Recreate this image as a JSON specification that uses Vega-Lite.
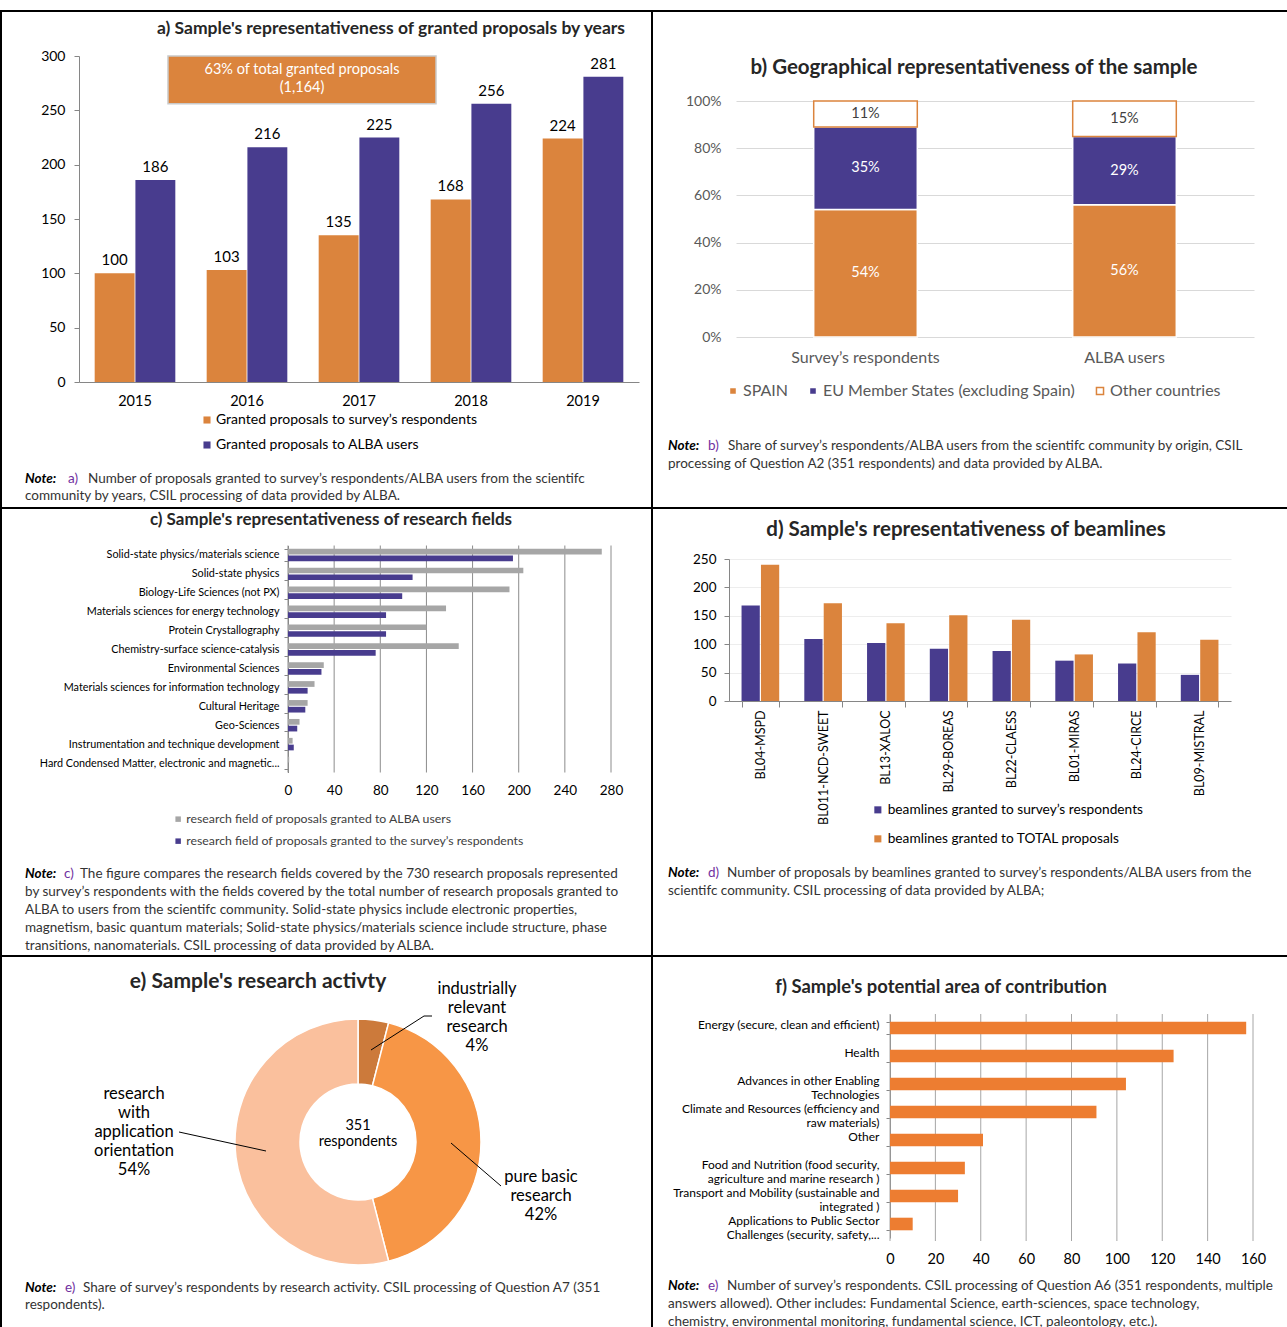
{
"$schema": "https://vega.github.io/schema/vega-lite/v6.json",
"padding": {"left": 0, "top": 10, "right": 0, "bottom": 0},
"background": "white",
"datasets": {
"a": [
{"year":"2015","series":"Granted proposals to survey’s respondents","proposals":100},
{"year":"2015","series":"Granted proposals to ALBA users","proposals":186},
{"year":"2016","series":"Granted proposals to survey’s respondents","proposals":103},
{"year":"2016","series":"Granted proposals to ALBA users","proposals":216},
{"year":"2017","series":"Granted proposals to survey’s respondents","proposals":135},
{"year":"2017","series":"Granted proposals to ALBA users","proposals":225},
{"year":"2018","series":"Granted proposals to survey’s respondents","proposals":168},
{"year":"2018","series":"Granted proposals to ALBA users","proposals":256},
{"year":"2019","series":"Granted proposals to survey’s respondents","proposals":224},
{"year":"2019","series":"Granted proposals to ALBA users","proposals":281}
],
"b": [
{"group":"Survey’s respondents","origin":"SPAIN","share":0.54,"k":1},
{"group":"Survey’s respondents","origin":"EU Member States (excluding Spain)","share":0.35,"k":2},
{"group":"Survey’s respondents","origin":"Other countries","share":0.11,"k":3},
{"group":"ALBA users","origin":"SPAIN","share":0.56,"k":1},
{"group":"ALBA users","origin":"EU Member States (excluding Spain)","share":0.29,"k":2},
{"group":"ALBA users","origin":"Other countries","share":0.15,"k":3}
],
"c": [
{"field":"Solid-state physics/materials science","series":"research field of proposals granted to ALBA users","n":272},
{"field":"Solid-state physics/materials science","series":"research field of proposals granted to the survey’s respondents","n":195},
{"field":"Solid-state physics","series":"research field of proposals granted to ALBA users","n":204},
{"field":"Solid-state physics","series":"research field of proposals granted to the survey’s respondents","n":108},
{"field":"Biology-Life Sciences (not PX)","series":"research field of proposals granted to ALBA users","n":192},
{"field":"Biology-Life Sciences (not PX)","series":"research field of proposals granted to the survey’s respondents","n":99},
{"field":"Materials sciences for energy technology","series":"research field of proposals granted to ALBA users","n":137},
{"field":"Materials sciences for energy technology","series":"research field of proposals granted to the survey’s respondents","n":85},
{"field":"Protein Crystallography","series":"research field of proposals granted to ALBA users","n":120},
{"field":"Protein Crystallography","series":"research field of proposals granted to the survey’s respondents","n":85},
{"field":"Chemistry-surface science-catalysis","series":"research field of proposals granted to ALBA users","n":148},
{"field":"Chemistry-surface science-catalysis","series":"research field of proposals granted to the survey’s respondents","n":76},
{"field":"Environmental Sciences","series":"research field of proposals granted to ALBA users","n":31},
{"field":"Environmental Sciences","series":"research field of proposals granted to the survey’s respondents","n":29},
{"field":"Materials sciences for information technology","series":"research field of proposals granted to ALBA users","n":23},
{"field":"Materials sciences for information technology","series":"research field of proposals granted to the survey’s respondents","n":17},
{"field":"Cultural Heritage","series":"research field of proposals granted to ALBA users","n":17},
{"field":"Cultural Heritage","series":"research field of proposals granted to the survey’s respondents","n":15},
{"field":"Geo-Sciences","series":"research field of proposals granted to ALBA users","n":10},
{"field":"Geo-Sciences","series":"research field of proposals granted to the survey’s respondents","n":8},
{"field":"Instrumentation and technique development","series":"research field of proposals granted to ALBA users","n":4},
{"field":"Instrumentation and technique development","series":"research field of proposals granted to the survey’s respondents","n":5},
{"field":"Hard Condensed Matter, electronic and magnetic...","series":"research field of proposals granted to ALBA users","n":1},
{"field":"Hard Condensed Matter, electronic and magnetic...","series":"research field of proposals granted to the survey’s respondents","n":0}
],
"d": [
{"beamline":"BL04-MSPD","series":"beamlines granted to survey’s respondents","n":168},
{"beamline":"BL04-MSPD","series":"beamlines granted to TOTAL proposals","n":240},
{"beamline":"BL011-NCD-SWEET","series":"beamlines granted to survey’s respondents","n":109},
{"beamline":"BL011-NCD-SWEET","series":"beamlines granted to TOTAL proposals","n":172},
{"beamline":"BL13-XALOC","series":"beamlines granted to survey’s respondents","n":102},
{"beamline":"BL13-XALOC","series":"beamlines granted to TOTAL proposals","n":137},
{"beamline":"BL29-BOREAS","series":"beamlines granted to survey’s respondents","n":92},
{"beamline":"BL29-BOREAS","series":"beamlines granted to TOTAL proposals","n":151},
{"beamline":"BL22-CLAESS","series":"beamlines granted to survey’s respondents","n":88},
{"beamline":"BL22-CLAESS","series":"beamlines granted to TOTAL proposals","n":143},
{"beamline":"BL01-MIRAS","series":"beamlines granted to survey’s respondents","n":71},
{"beamline":"BL01-MIRAS","series":"beamlines granted to TOTAL proposals","n":82},
{"beamline":"BL24-CIRCE","series":"beamlines granted to survey’s respondents","n":66},
{"beamline":"BL24-CIRCE","series":"beamlines granted to TOTAL proposals","n":121},
{"beamline":"BL09-MISTRAL","series":"beamlines granted to survey’s respondents","n":46},
{"beamline":"BL09-MISTRAL","series":"beamlines granted to TOTAL proposals","n":108}
],
"e": [
{"activity":"industrially relevant research","share":4,"k":1},
{"activity":"pure basic research","share":42,"k":2},
{"activity":"research with application orientation","share":54,"k":3}
],
"f": [
{"area":"Energy (secure, clean and efficient)","n":157},
{"area":"Health","n":125},
{"area":"Advances in other Enabling|Technologies","n":104},
{"area":"Climate and Resources (efficiency and|raw materials)","n":91},
{"area":"Other","n":41},
{"area":"Food and Nutrition (food security,|agriculture and marine research )","n":33},
{"area":"Transport and Mobility (sustainable and|integrated )","n":30},
{"area":"Applications to Public Sector|Challenges (security, safety,...","n":10}
],
"gc": [{"g":0},{"g":40},{"g":80},{"g":120},{"g":160},{"g":200},{"g":240},{"g":280}],
"gf": [{"g":0},{"g":20},{"g":40},{"g":60},{"g":80},{"g":100},{"g":120},{"g":140},{"g":160}]
},
"columns": 2,
"spacing": 0,
"bounds": "flush",
"align": "each",
"resolve": {"scale": {"color": "independent", "stroke": "independent", "x": "independent", "y": "independent", "xOffset": "independent"}, "legend": {"color": "independent", "stroke": "independent"}},
"concat": [
{
"width": 651, "height": 497,
"layer": [
{"data": {"values": [{}]}, "mark": {"type": "text", "text": "a) Sample's representativeness of granted proposals by years", "x": 390, "y": 18, "align": "center", "baseline": "middle", "fontSize": 17.5, "fontWeight": "bold", "color": "#262626"}},
{"data": {"name": "a"},
 "encoding": {
  "x": {"field": "year", "type": "ordinal", "scale": {"range": [78, 638], "paddingInner": 0.28, "paddingOuter": 0.14},
        "axis": {"title": null, "offset": -126, "ticks": false, "tickSize": 0, "labelPadding": 12, "labelFontSize": 14.5, "labelAngle": 0, "labelColor": "#000000", "domainColor": "#868686", "grid": false}},
  "xOffset": {"field": "series", "type": "nominal", "sort": ["Granted proposals to survey’s respondents", "Granted proposals to ALBA users"], "scale": {"paddingInner": 0.02}},
  "y": {"field": "proposals", "type": "quantitative", "scale": {"domain": [0, 300], "range": [371, 45]},
        "axis": {"title": null, "offset": -78, "values": [0, 50, 100, 150, 200, 250, 300], "grid": false, "tickSize": 5, "labelPadding": 9, "labelFontSize": 14, "labelColor": "#000000", "domainColor": "#868686", "tickColor": "#868686"}}
 },
 "layer": [
  {"mark": {"type": "bar"},
   "encoding": {"color": {"field": "series", "type": "nominal", "scale": {"domain": ["Granted proposals to survey’s respondents", "Granted proposals to ALBA users"], "range": ["#DB843D", "#483C8E"]},
     "legend": {"title": null, "orient": "none", "legendX": 199, "legendY": 402, "direction": "vertical", "symbolType": "square", "symbolSize": 50, "labelFontSize": 14, "labelColor": "#000000", "rowPadding": 11, "labelOffset": 2, "labelLimit": 400}}}},
  {"mark": {"type": "text", "baseline": "bottom", "dy": -5, "fontSize": 15, "color": "#000000"},
   "encoding": {"text": {"field": "proposals", "type": "quantitative"}}}
 ]},
{"data": {"values": [{}]}, "mark": {"type": "rect", "x": 167, "x2": 435, "fill": "#DB843D", "stroke": "#C9C9C9", "strokeWidth": 1.5}, "encoding": {"y": {"datum": 300}, "y2": {"datum": 256}}},
{"data": {"values": [{}]}, "mark": {"type": "text", "text": ["63% of total granted proposals", "(1,164)"], "x": 301, "y": 59, "align": "center", "baseline": "middle", "fontSize": 14.5, "lineHeight": 18, "color": "#FFFFFF"}},
{"data": {"values": [{}]}, "mark": {"type": "text", "text": "Note:", "x": 24, "y": 468, "align": "left", "baseline": "middle", "fontSize": 13.5, "fontWeight": "bold", "fontStyle": "italic", "color": "#000000"}},
{"data": {"values": [{}]}, "mark": {"type": "text", "text": "a)", "x": 67, "y": 468, "align": "left", "baseline": "middle", "fontSize": 13.5, "color": "#7030A0"}},
{"data": {"values": [{}]}, "mark": {"type": "text", "text": "Number of proposals granted to survey’s respondents/ALBA users from the scientifc", "x": 87, "y": 468, "align": "left", "baseline": "middle", "fontSize": 13.5, "color": "#333333"}},
{"data": {"values": [{}]}, "mark": {"type": "text", "text": "community by years, CSIL processing of data provided by ALBA.", "x": 24, "y": 485, "align": "left", "baseline": "middle", "fontSize": 13.5, "color": "#333333"}}
]
},
{
"width": 636, "height": 497,
"layer": [
{"data": {"values": [{}]}, "mark": {"type": "text", "text": "b) Geographical representativeness of the sample", "x": 322, "y": 57, "align": "center", "baseline": "middle", "fontSize": 20.5, "fontWeight": "bold", "color": "#262626"}},
{"data": {"name": "b"},
 "encoding": {
  "x": {"field": "group", "type": "nominal", "sort": null, "scale": {"range": [84, 602], "paddingInner": 0.6, "paddingOuter": 0.3},
        "axis": {"title": null, "offset": -171, "domain": false, "ticks": false, "tickSize": 0, "labelPadding": 12, "labelFontSize": 16, "labelColor": "#595959", "labelAngle": 0}},
  "y": {"field": "share", "type": "quantitative", "stack": "zero", "scale": {"domain": [0, 1], "range": [326, 90]},
        "axis": {"title": null, "offset": -84, "format": ".0%", "values": [0, 0.2, 0.4, 0.6, 0.8, 1], "grid": true, "gridColor": "#D9D9D9", "domain": false, "ticks": false, "tickSize": 0, "labelPadding": 15, "labelFontSize": 14, "labelColor": "#595959"}},
  "order": {"field": "k", "type": "quantitative"}
 },
 "layer": [
  {"mark": {"type": "bar", "strokeWidth": 1.5},
   "encoding": {
    "color": {"field": "origin", "type": "nominal", "scale": {"domain": ["SPAIN", "EU Member States (excluding Spain)", "Other countries"], "range": ["#DB843D", "#483C8E", "#FFFFFF"]},
      "legend": {"title": null, "orient": "none", "legendX": 73, "legendY": 372, "direction": "horizontal", "symbolType": "square", "symbolSize": 50, "labelFontSize": 16, "labelColor": "#595959", "columnPadding": 16, "labelOffset": 2, "labelLimit": 400}},
    "stroke": {"field": "origin", "type": "nominal", "scale": {"domain": ["SPAIN", "EU Member States (excluding Spain)", "Other countries"], "range": ["#FFFFFF", "#FFFFFF", "#DB843D"]},
      "legend": {"title": null, "orient": "none", "legendX": 73, "legendY": 372, "direction": "horizontal", "symbolType": "square", "symbolSize": 50, "labelFontSize": 16, "labelColor": "#595959", "columnPadding": 16, "labelOffset": 2, "labelLimit": 400}}
   }},
  {"mark": {"type": "text", "fontSize": 14.5},
   "encoding": {
    "y": {"field": "share", "type": "quantitative", "stack": "zero", "bandPosition": 0.5},
    "detail": {"field": "origin", "type": "nominal"},
    "text": {"field": "share", "type": "quantitative", "format": ".0%"},
    "color": {"condition": {"test": "datum.origin === 'Other countries'", "value": "#404040"}, "value": "#FFFFFF"}
   }}
 ]},
{"data": {"values": [{}]}, "mark": {"type": "text", "text": "Note:", "x": 16, "y": 435, "align": "left", "baseline": "middle", "fontSize": 13.5, "fontWeight": "bold", "fontStyle": "italic", "color": "#000000"}},
{"data": {"values": [{}]}, "mark": {"type": "text", "text": "b)", "x": 56, "y": 435, "align": "left", "baseline": "middle", "fontSize": 13.5, "color": "#7030A0"}},
{"data": {"values": [{}]}, "mark": {"type": "text", "text": "Share of survey’s respondents/ALBA users from the scientifc community by origin, CSIL", "x": 76, "y": 435, "align": "left", "baseline": "middle", "fontSize": 13.5, "color": "#333333"}},
{"data": {"values": [{}]}, "mark": {"type": "text", "text": "processing of Question A2 (351 respondents) and data provided by ALBA.", "x": 16, "y": 453, "align": "left", "baseline": "middle", "fontSize": 13.5, "color": "#333333"}}
]
},
{
"width": 651, "height": 448,
"layer": [
{"data": {"values": [{}]}, "mark": {"type": "text", "text": "c) Sample's representativeness of research fields", "x": 330, "y": 12, "align": "center", "baseline": "middle", "fontSize": 17, "fontWeight": "bold", "color": "#262626"}},
{"data": {"name": "gc"}, "mark": {"type": "rule", "color": "#8C8C8C", "strokeWidth": 1},
 "encoding": {"x": {"field": "g", "type": "quantitative"}, "y": {"value": 37.5}, "y2": {"value": 264.5}}},
{"data": {"name": "c"}, "mark": {"type": "bar"},
 "encoding": {
  "y": {"field": "field", "type": "nominal", "sort": null, "scale": {"range": [37.5, 264.5], "paddingInner": 0.34, "paddingOuter": 0.17},
        "axis": {"title": null, "offset": -287, "tickBand": "extent", "tickSize": 4, "labelPadding": 5, "labelFontSize": 10.8, "labelLimit": 300, "labelOverlap": false, "labelColor": "#000000", "domainColor": "#868686", "tickColor": "#868686"}},
  "yOffset": {"field": "series", "type": "nominal", "sort": ["research field of proposals granted to ALBA users", "research field of proposals granted to the survey’s respondents"], "scale": {"paddingInner": 0.15}},
  "x": {"field": "n", "type": "quantitative", "scale": {"domain": [0, 280], "range": [287, 610]},
        "axis": {"title": null, "offset": -183.5, "values": [0, 40, 80, 120, 160, 200, 240, 280], "grid": false, "domain": false, "ticks": false, "tickSize": 0, "labelPadding": 11, "labelFlush": false, "labelFontSize": 13.5, "labelColor": "#000000"}},
  "color": {"field": "series", "type": "nominal", "scale": {"domain": ["research field of proposals granted to ALBA users", "research field of proposals granted to the survey’s respondents"], "range": ["#A6A6A6", "#483C8E"]},
    "legend": {"title": null, "orient": "none", "legendX": 171, "legendY": 305, "direction": "vertical", "symbolType": "square", "symbolSize": 30, "labelFontSize": 12.3, "labelColor": "#404040", "rowPadding": 9, "labelOffset": 2, "labelLimit": 500}}
 }},
{"data": {"values": [{}]}, "mark": {"type": "text", "text": "Note:", "x": 24, "y": 366, "align": "left", "baseline": "middle", "fontSize": 13.5, "fontWeight": "bold", "fontStyle": "italic", "color": "#000000"}},
{"data": {"values": [{}]}, "mark": {"type": "text", "text": "c)", "x": 63, "y": 366, "align": "left", "baseline": "middle", "fontSize": 13.5, "color": "#7030A0"}},
{"data": {"values": [{}]}, "mark": {"type": "text", "text": "The figure compares the research fields covered by the 730 research proposals represented", "x": 79, "y": 366, "align": "left", "baseline": "middle", "fontSize": 13.5, "color": "#333333"}},
{"data": {"values": [{}]}, "mark": {"type": "text", "text": ["by survey’s respondents with the fields covered by the total number of research proposals granted to", "ALBA to users from the scientifc community. Solid-state physics include electronic properties,", "magnetism, basic quantum materials; Solid-state physics/materials science include structure, phase", "transitions, nanomaterials. CSIL processing of data provided by ALBA."], "x": 24, "y": 384, "align": "left", "baseline": "middle", "lineHeight": 18, "fontSize": 13.5, "color": "#333333"}}
]
},
{
"width": 636, "height": 448,
"layer": [
{"data": {"values": [{}]}, "mark": {"type": "text", "text": "d) Sample's representativeness of beamlines", "x": 314, "y": 22, "align": "center", "baseline": "middle", "fontSize": 20.5, "fontWeight": "bold", "color": "#262626"}},
{"data": {"name": "d"}, "mark": {"type": "bar"},
 "encoding": {
  "x": {"field": "beamline", "type": "nominal", "sort": null, "scale": {"range": [77, 579], "paddingInner": 0.4, "paddingOuter": 0.2},
        "axis": {"title": null, "offset": -255, "labelAngle": -90, "tickBand": "extent", "tickSize": 6, "labelPadding": 3, "labelFontSize": 12.5, "labelColor": "#000000", "domainColor": "#868686", "tickColor": "#868686"}},
  "xOffset": {"field": "series", "type": "nominal", "sort": ["beamlines granted to survey’s respondents", "beamlines granted to TOTAL proposals"], "scale": {"paddingInner": 0.06}},
  "y": {"field": "n", "type": "quantitative", "scale": {"domain": [0, 250], "range": [193, 51]},
        "axis": {"title": null, "offset": -77, "values": [0, 50, 100, 150, 200, 250], "grid": true, "gridColor": "#EDEDED", "tickSize": 5, "labelPadding": 8, "labelFontSize": 13.5, "labelColor": "#000000", "domainColor": "#868686", "tickColor": "#868686"}},
  "color": {"field": "series", "type": "nominal", "scale": {"domain": ["beamlines granted to survey’s respondents", "beamlines granted to TOTAL proposals"], "range": ["#483C8E", "#DB843D"]},
    "legend": {"title": null, "orient": "none", "legendX": 219, "legendY": 295, "direction": "vertical", "symbolType": "square", "symbolSize": 50, "labelFontSize": 13.7, "labelColor": "#000000", "rowPadding": 14, "labelOffset": 3, "labelLimit": 500}}
 }},
{"data": {"values": [{}]}, "mark": {"type": "text", "text": "Note:", "x": 16, "y": 365, "align": "left", "baseline": "middle", "fontSize": 13.5, "fontWeight": "bold", "fontStyle": "italic", "color": "#000000"}},
{"data": {"values": [{}]}, "mark": {"type": "text", "text": "d)", "x": 56, "y": 365, "align": "left", "baseline": "middle", "fontSize": 13.5, "color": "#7030A0"}},
{"data": {"values": [{}]}, "mark": {"type": "text", "text": "Number of proposals by beamlines granted to survey’s respondents/ALBA users from the", "x": 75, "y": 365, "align": "left", "baseline": "middle", "fontSize": 13.5, "color": "#333333"}},
{"data": {"values": [{}]}, "mark": {"type": "text", "text": "scientifc community. CSIL processing of data provided by ALBA;", "x": 16, "y": 383, "align": "left", "baseline": "middle", "fontSize": 13.5, "color": "#333333"}}
]
},
{
"width": 651, "height": 374,
"layer": [
{"data": {"values": [{}]}, "mark": {"type": "text", "text": "e) Sample's research activty", "x": 257, "y": 26, "align": "center", "baseline": "middle", "fontSize": 21, "fontWeight": "bold", "color": "#262626"}},
{"data": {"name": "e"}, "mark": {"type": "arc", "innerRadius": 58, "outerRadius": 123, "stroke": "#FFFFFF", "strokeWidth": 1.5},
 "encoding": {
  "theta": {"field": "share", "type": "quantitative", "stack": true},
  "order": {"field": "k", "type": "quantitative"},
  "color": {"field": "activity", "type": "nominal", "scale": {"domain": ["industrially relevant research", "pure basic research", "research with application orientation"], "range": ["#CC7A3B", "#F79646", "#FAC09D"]}, "legend": null},
  "x": {"value": 357},
  "y": {"value": 186}
 }},
{"data": {"values": [{}]}, "mark": {"type": "text", "text": ["351", "respondents"], "x": 357, "y": 170, "align": "center", "baseline": "middle", "fontSize": 14.5, "lineHeight": 16, "color": "#000000"}},
{"data": {"values": [{}]}, "mark": {"type": "text", "text": ["industrially", "relevant", "research", "4%"], "x": 476, "y": 33, "align": "center", "baseline": "middle", "fontSize": 16.5, "lineHeight": 19, "color": "#000000"}},
{"data": {"values": [{}]}, "mark": {"type": "text", "text": ["research", "with", "application", "orientation", "54%"], "x": 133, "y": 138, "align": "center", "baseline": "middle", "fontSize": 16.5, "lineHeight": 19, "color": "#000000"}},
{"data": {"values": [{}]}, "mark": {"type": "text", "text": ["pure basic", "research", "42%"], "x": 540, "y": 221, "align": "center", "baseline": "middle", "fontSize": 16.5, "lineHeight": 19, "color": "#000000"}},
{"data": {"values": [{}]}, "mark": {"type": "rule", "color": "#000000", "strokeWidth": 1}, "encoding": {"x": {"value": 370}, "y": {"value": 94}, "x2": {"value": 423}, "y2": {"value": 60}}},
{"data": {"values": [{}]}, "mark": {"type": "rule", "color": "#000000", "strokeWidth": 1}, "encoding": {"x": {"value": 423}, "y": {"value": 60}, "x2": {"value": 431}, "y2": {"value": 60}}},
{"data": {"values": [{}]}, "mark": {"type": "rule", "color": "#000000", "strokeWidth": 1}, "encoding": {"x": {"value": 178}, "y": {"value": 176}, "x2": {"value": 265}, "y2": {"value": 195}}},
{"data": {"values": [{}]}, "mark": {"type": "rule", "color": "#000000", "strokeWidth": 1}, "encoding": {"x": {"value": 500}, "y": {"value": 230}, "x2": {"value": 450}, "y2": {"value": 187}}},
{"data": {"values": [{}]}, "mark": {"type": "text", "text": "Note:", "x": 24, "y": 332, "align": "left", "baseline": "middle", "fontSize": 13.5, "fontWeight": "bold", "fontStyle": "italic", "color": "#000000"}},
{"data": {"values": [{}]}, "mark": {"type": "text", "text": "e)", "x": 64, "y": 332, "align": "left", "baseline": "middle", "fontSize": 13.5, "color": "#7030A0"}},
{"data": {"values": [{}]}, "mark": {"type": "text", "text": "Share of survey’s respondents by research activity. CSIL processing of Question A7 (351", "x": 82, "y": 332, "align": "left", "baseline": "middle", "fontSize": 13.5, "color": "#333333"}},
{"data": {"values": [{}]}, "mark": {"type": "text", "text": "respondents).", "x": 24, "y": 349, "align": "left", "baseline": "middle", "fontSize": 13.5, "color": "#333333"}}
]
},
{
"width": 636, "height": 374,
"layer": [
{"data": {"values": [{}]}, "mark": {"type": "text", "text": "f) Sample's potential area of contribution", "x": 289, "y": 31, "align": "center", "baseline": "middle", "fontSize": 18.4, "fontWeight": "bold", "color": "#262626"}},
{"data": {"name": "gf"}, "mark": {"type": "rule", "color": "#A6A6A6", "strokeWidth": 1},
 "encoding": {"x": {"field": "g", "type": "quantitative"}, "y": {"value": 58}, "y2": {"value": 285}}},
{"data": {"name": "f"}, "mark": {"type": "bar", "color": "#ED7D31"},
 "encoding": {
  "y": {"field": "area", "type": "nominal", "sort": null, "scale": {"range": [58, 282], "paddingInner": 0.55, "paddingOuter": 0.275},
        "axis": {"title": null, "offset": -238, "tickBand": "extent", "tickSize": 4, "labelPadding": 7, "labelFontSize": 12, "labelLimit": 300, "labelOverlap": false, "labelExpr": "split(datum.label, '|')", "labelLineHeight": 13.5, "labelOffset": -3.5,
                 "labelColor": "#000000", "domainColor": "#868686", "tickColor": "#868686"}},
  "x": {"field": "n", "type": "quantitative", "scale": {"domain": [0, 160], "range": [238, 601]},
        "axis": {"title": null, "offset": -87, "values": [0, 20, 40, 60, 80, 100, 120, 140, 160], "grid": false, "domain": false, "ticks": false, "tickSize": 0, "labelPadding": 9, "labelFlush": false, "labelFontSize": 14.5, "labelColor": "#000000"}}
 }},
{"data": {"values": [{}]}, "mark": {"type": "text", "text": "Note:", "x": 16, "y": 330, "align": "left", "baseline": "middle", "fontSize": 13.5, "fontWeight": "bold", "fontStyle": "italic", "color": "#000000"}},
{"data": {"values": [{}]}, "mark": {"type": "text", "text": "e)", "x": 56, "y": 330, "align": "left", "baseline": "middle", "fontSize": 13.5, "color": "#7030A0"}},
{"data": {"values": [{}]}, "mark": {"type": "text", "text": "Number of survey’s respondents. CSIL processing of Question A6 (351 respondents, multiple", "x": 75, "y": 330, "align": "left", "baseline": "middle", "fontSize": 13.5, "color": "#333333"}},
{"data": {"values": [{}]}, "mark": {"type": "text", "text": ["answers allowed). Other includes: Fundamental Science, earth-sciences, space technology,", "chemistry, environmental monitoring, fundamental science, ICT, paleontology, etc.)."], "x": 16, "y": 348, "align": "left", "baseline": "middle", "lineHeight": 18, "fontSize": 13.5, "color": "#333333"}}
]
}
],
"config": {
 "font": "Lato",
 "view": {"stroke": "#000000", "strokeWidth": 2},
 "concat": {"spacing": 0},
 "axis": {"labelFont": "Lato", "titleFont": "Lato", "grid": false},
 "legend": {"labelFont": "Lato", "symbolType": "square"}
}
}
